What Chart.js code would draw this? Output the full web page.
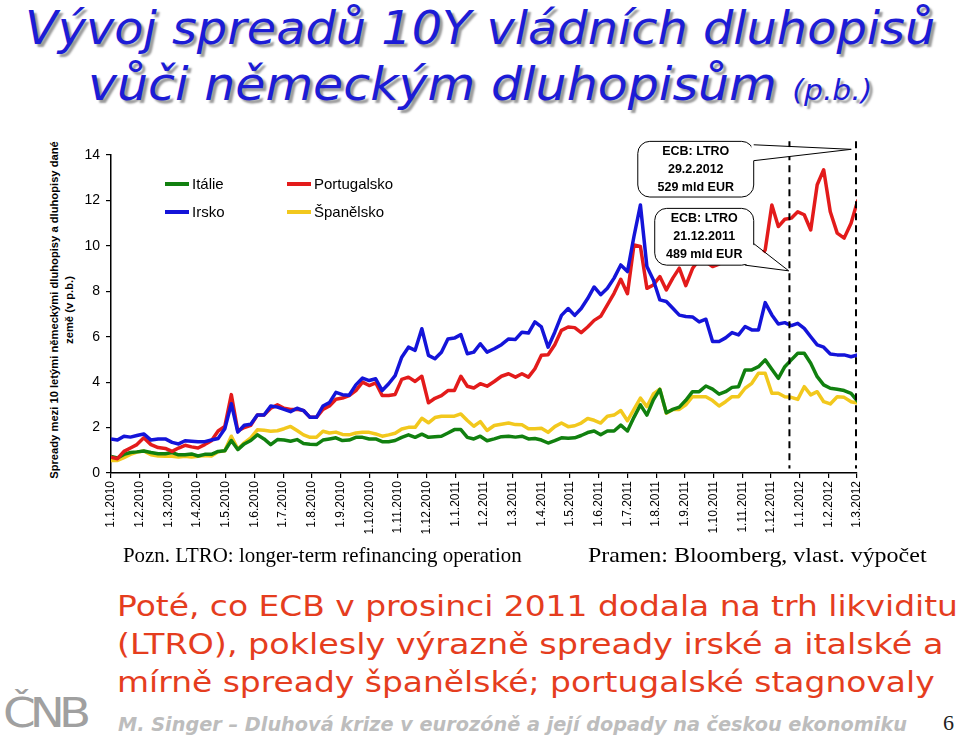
<!DOCTYPE html>
<html>
<head>
<meta charset="utf-8">
<script src="https://cdn.jsdelivr.net/npm/chart.js@4.4.1/dist/chart.umd.min.js"></script>
<style>
  body { margin: 0; width: 960px; height: 737px; position: relative; background: #fff; overflow: hidden;
         font-family: 'Liberation Sans', Arial, sans-serif; }
  .t { position: absolute; white-space: nowrap; transform-origin: 0 0; }
  #chart { position: absolute; left: 0; top: 0; }
  .leg { position: absolute; font: 15px 'Liberation Sans', Arial, sans-serif; color: #000; white-space: nowrap; }
  .leg i { display: inline-block; width: 24px; height: 4px; vertical-align: middle; margin-right: 3px; position: relative; top: -1px; }
</style>
</head>
<body>

<div class="t fit" data-w="910" style="left:25px;top:5px;font:italic 46px/46px 'DejaVu Sans';color:#1c1cd6;text-shadow:3px 3px 2px #9a9a9a">Vývoj spreadů 10Y vládních dluhopisů</div>
<div class="t fit" data-w="784" style="left:88px;top:61px;font:italic 46px/46px 'DejaVu Sans';color:#1c1cd6;text-shadow:3px 3px 2px #9a9a9a">vůči německým dluhopisům <span style="font-size:28px">(p.b.)</span></div>

<div style="position:absolute;left:62px;top:310px;width:380px;transform:translate(-50%,-50%) rotate(-90deg);text-align:center;font:bold 11.2px/15px 'Liberation Sans',Arial,sans-serif;white-space:nowrap">Spready mezi 10 letými německými dluhopisy a dluhopisy dané<br>země (v p.b.)</div>

<canvas id="chart" width="960" height="560"></canvas>
<div id="legend"></div>

<div class="t fit" data-w="399" style="left:123px;top:545px;font:21px/21px 'Liberation Serif';color:#000">Pozn. LTRO: longer-term refinancing operation</div>
<div class="t fit" data-w="338" style="left:588px;top:545px;font:21px/21px 'Liberation Serif';color:#000">Pramen: Bloomberg, vlast. výpočet</div>

<div class="t fit" data-w="841" style="left:117px;top:593px;font:28px/28px 'DejaVu Sans';color:#e53d1e">Poté, co ECB v prosinci 2011 dodala na trh likviditu</div>
<div class="t fit" data-w="826" style="left:117px;top:631px;font:28px/28px 'DejaVu Sans';color:#e53d1e">(LTRO), poklesly výrazně spready irské a italské a</div>
<div class="t fit" data-w="818" style="left:117px;top:669px;font:28px/28px 'DejaVu Sans';color:#e53d1e">mírně spready španělské; portugalské stagnovaly</div>

<div class="t fit" data-w="82" style="left:3px;top:693px;font:40px/40px 'DejaVu Sans';letter-spacing:-5px;color:#a0a0a0">ČNB</div>
<div class="t fit" data-w="789" style="left:118px;top:714px;font:italic bold 20px/20px 'DejaVu Sans';color:#bdbdbd">M. Singer – Dluhová krize v eurozóně a její dopady na českou ekonomiku</div>
<div class="t" style="left:943px;top:712px;font:22px/22px 'Liberation Serif';color:#222">6</div>

<script>
// month ticks on the x axis
const monthLabels = [
  '1.1.2010', '1.2.2010', '1.3.2010', '1.4.2010', '1.5.2010', '1.6.2010', '1.7.2010', '1.8.2010',
  '1.9.2010', '1.10.2010', '1.11.2010', '1.12.2010',
  '1.1.2011', '1.2.2011', '1.3.2011', '1.4.2011', '1.5.2011', '1.6.2011', '1.7.2011', '1.8.2011',
  '1.9.2011', '1.10.2011', '1.11.2011', '1.12.2011',
  '1.1.2012', '1.2.2012', '1.3.2012'
];

// weekly spreads vs. Bund (p.b.), from 1.1.2010
const irsko = [
  1.5, 1.45, 1.62, 1.58, 1.65, 1.72, 1.45, 1.5, 1.5, 1.35,
  1.28, 1.42, 1.4, 1.38, 1.38, 1.45, 1.52, 1.95, 3.05, 1.8,
  2.1, 2.15, 2.55, 2.55, 2.95, 2.9, 2.8, 2.7, 2.85, 2.75,
  2.45, 2.45, 2.95, 3.1, 3.55, 3.45, 3.42, 3.88, 4.18, 4.07,
  4.15, 3.63, 3.93, 4.29, 5.1, 5.54, 5.4, 6.35, 5.18, 5.03,
  5.32, 5.9, 5.94, 6.09, 5.25, 5.32, 5.69, 5.32, 5.47, 5.65,
  5.9, 5.88, 6.2, 6.16, 6.65, 6.43, 5.54, 6.2, 6.94, 7.24,
  6.94, 7.24, 7.68, 8.19, 7.85, 8.13, 8.58, 9.16, 8.87, 10.41,
  11.8, 9.09, 8.5, 7.62, 7.55, 7.25, 6.95, 6.89, 6.87, 6.65,
  6.77, 5.79, 5.79, 5.95, 6.18, 6.08, 6.45, 6.3, 6.3, 7.5,
  6.96, 6.56, 6.62, 6.49, 6.59, 6.37, 6.0, 5.64, 5.54, 5.24,
  5.2, 5.2, 5.12, 5.2
];
const portugalsko = [
  0.7, 0.63, 0.95, 1.1, 1.25, 1.55, 1.25, 1.12, 1.08, 0.95,
  1.1, 1.22, 1.15, 1.1, 1.25, 1.42, 1.85, 2.05, 3.45, 1.85,
  2.0, 2.1, 2.55, 2.55, 2.85, 3.0, 2.85, 2.8, 2.8, 2.75,
  2.45, 2.45, 2.8, 2.95, 3.25, 3.3, 3.41, 3.63, 4.0, 3.85,
  3.97, 3.41, 3.41, 3.46, 4.12, 4.22, 4.03, 4.26, 3.09, 3.29,
  3.41, 3.63, 3.63, 4.26, 3.82, 3.74, 3.93, 3.82, 4.03, 4.26,
  4.37, 4.22, 4.37, 4.22, 4.59, 5.18, 5.21, 5.65, 6.28, 6.43,
  6.4, 6.18, 6.43, 6.72, 6.9, 7.4, 7.91, 8.53, 7.89, 10.04,
  9.97, 8.13, 8.28, 8.65, 8.06, 8.58, 9.02, 8.25, 9.0, 9.4,
  9.3, 9.09, 9.2, 9.4, 9.3, 9.5, 9.6, 9.5, 9.31, 9.82,
  11.8, 10.85, 11.17, 11.22, 11.5, 11.37, 10.7, 12.69, 13.35, 11.5,
  10.56, 10.34, 11.0, 12.03
];
const italie = [
  0.73, 0.66, 0.82, 0.9, 0.93, 0.97, 0.9, 0.85, 0.85, 0.9,
  0.8, 0.8, 0.84, 0.75, 0.82, 0.82, 0.95, 0.98, 1.43, 1.03,
  1.28, 1.43, 1.68, 1.5, 1.25, 1.47, 1.45, 1.4, 1.47, 1.3,
  1.27, 1.25, 1.45, 1.5, 1.55, 1.43, 1.45, 1.57, 1.57, 1.5,
  1.5, 1.38, 1.38, 1.43, 1.57, 1.68, 1.57, 1.71, 1.57, 1.6,
  1.62, 1.76, 1.91, 1.91, 1.57, 1.5, 1.62, 1.42, 1.5, 1.6,
  1.62, 1.58, 1.62, 1.5, 1.52, 1.45, 1.32, 1.43, 1.55, 1.53,
  1.55, 1.65, 1.78, 1.85, 1.68, 1.85, 1.85, 2.11, 1.85, 2.45,
  3.0, 2.55, 3.22, 3.68, 2.65, 2.8, 2.9, 3.2, 3.58, 3.58,
  3.83, 3.69, 3.47, 3.58, 3.77, 3.8, 4.54, 4.54, 4.68, 4.98,
  4.57, 4.17, 4.68, 4.98, 5.27, 5.27, 4.83, 4.24, 3.88, 3.73,
  3.69, 3.63, 3.51, 3.14
];
const spanelsko = [
  0.55, 0.55, 0.68, 0.82, 0.92, 0.97, 0.8, 0.75, 0.74, 0.74,
  0.7, 0.74, 0.7, 0.74, 0.77, 0.75, 0.93, 0.98, 1.62, 1.05,
  1.33, 1.55, 1.9, 1.88, 1.84, 1.86, 1.95, 2.05, 1.87, 1.68,
  1.57, 1.57, 1.84, 1.76, 1.8, 1.7, 1.68, 1.76, 1.79, 1.79,
  1.72, 1.62, 1.68, 1.75, 1.94, 2.01, 2.01, 2.41, 2.21, 2.44,
  2.5, 2.5, 2.5, 2.6, 2.31, 2.06, 2.26, 1.87, 2.09, 2.15,
  2.2, 2.13, 2.12, 1.95, 1.95, 1.97, 1.79, 2.04, 2.2, 2.04,
  2.08, 2.2, 2.4, 2.32, 2.2, 2.5, 2.55, 2.75, 2.3, 2.8,
  3.3, 2.92, 3.48, 3.69, 2.63, 2.8, 2.8, 3.0, 3.36, 3.36,
  3.36, 3.19, 2.95, 3.14, 3.36, 3.36, 3.73, 3.95, 4.39, 4.39,
  3.51, 3.51, 3.36, 3.33, 3.24, 3.8, 3.44, 3.58, 3.14, 3.04,
  3.36, 3.33, 3.14, 3.07
];

const ltroDates = ['2011-12-21', '2012-02-29'];

// position of a date on the month axis (0 = 1.1.2010)
function monthPos(d) {
  const dim = new Date(Date.UTC(d.getUTCFullYear(), d.getUTCMonth() + 1, 0)).getUTCDate();
  return (d.getUTCFullYear() - 2010) * 12 + d.getUTCMonth() + (d.getUTCDate() - 1) / dim;
}
function weekPos(i) {
  return monthPos(new Date(Date.UTC(2010, 0, 1 + 7 * i)));
}
const toPoints = arr => arr.map((v, i) => ({ x: weekPos(i), y: v }));

const series = [
  { label: 'Irsko', data: irsko, color: '#1414d9' },
  { label: 'Portugalsko', data: portugalsko, color: '#e31b1b' },
  { label: 'Itálie', data: italie, color: '#11800f' },
  { label: 'Španělsko', data: spanelsko, color: '#f2c81d' }
];

// legend (two columns, like the original)
const legendSlots = { 'Itálie': [165, 175], 'Portugalsko': [287, 175], 'Irsko': [165, 203], 'Španělsko': [287, 203] };
const legend = document.getElementById('legend');
series.forEach(s => {
  const el = document.createElement('div');
  el.className = 'leg';
  el.style.left = legendSlots[s.label][0] + 'px';
  el.style.top = legendSlots[s.label][1] + 'px';
  el.innerHTML = `<i style="background:${s.color}"></i>${s.label}`;
  legend.appendChild(el);
});

// callout boxes, in axis units (x = months, y = p.b.)
const callouts = [
  { lines: ['ECB: LTRO', '29.2.2012', '529 mld EUR'], x0: 18.36, x1: 22.4, y0: 14.6, y1: 12.15,
    base: [[22.4, 14.45], [22.4, 13.75]], tip: [25.8, 14.25] },
  { lines: ['ECB: LTRO', '21.12.2011', '489 mld EUR'], x0: 18.95, x1: 22.4, y0: 11.65, y1: 9.15,
    base: [[22.4, 10.1], [22.1, 9.15]], tip: [23.62, 8.9] }
];

const annotations = {
  id: 'annotations',
  afterDatasetsDraw(chart) {
    const { ctx, scales: { x, y } } = chart;
    ctx.save();
    // LTRO dates
    ctx.strokeStyle = '#000';
    ctx.lineWidth = 2;
    ctx.setLineDash([7, 5]);
    ltroDates.forEach(ds => {
      const px = x.getPixelForValue(monthPos(new Date(ds + 'T00:00:00Z')));
      ctx.beginPath();
      ctx.moveTo(px, y.getPixelForValue(14.6));
      ctx.lineTo(px, y.getPixelForValue(0.2));
      ctx.stroke();
    });
    ctx.setLineDash([]);

    callouts.forEach(c => {
      const l = x.getPixelForValue(c.x0), r = x.getPixelForValue(c.x1);
      const t = y.getPixelForValue(c.y0), b = y.getPixelForValue(c.y1);
      const cx = (l + r) / 2, cy = (t + b) / 2;
      ctx.lineWidth = 1;
      ctx.strokeStyle = '#000';
      ctx.fillStyle = '#fff';
      ctx.beginPath();
      ctx.roundRect(l, t, r - l, b - t, 12);
      ctx.fill();
      ctx.stroke();
      const tip = [x.getPixelForValue(c.tip[0]), y.getPixelForValue(c.tip[1])];
      const bp = c.base.map(p => [x.getPixelForValue(p[0]), y.getPixelForValue(p[1])]);
      const inner = bp.map(p => {
        const dx = cx - p[0], dy = cy - p[1], n = Math.hypot(dx, dy);
        return [p[0] + dx / n * 2.5, p[1] + dy / n * 2.5];
      });
      ctx.beginPath();
      ctx.moveTo(inner[0][0], inner[0][1]);
      ctx.lineTo(tip[0], tip[1]);
      ctx.lineTo(inner[1][0], inner[1][1]);
      ctx.closePath();
      ctx.fill();
      ctx.beginPath();
      ctx.moveTo(bp[0][0], bp[0][1]);
      ctx.lineTo(tip[0], tip[1]);
      ctx.lineTo(bp[1][0], bp[1][1]);
      ctx.stroke();

      ctx.fillStyle = '#000';
      ctx.font = "bold 12.5px 'Liberation Sans', Arial, sans-serif";
      ctx.textAlign = 'center';
      ctx.textBaseline = 'middle';
      c.lines.forEach((txt, k) => ctx.fillText(txt, cx, cy + (k - 1) * 18));
    });
    ctx.restore();
  }
};

new Chart(document.getElementById('chart'), {
  type: 'line',
  data: {
    datasets: series.map(s => ({
      label: s.label,
      data: toPoints(s.data),
      borderColor: s.color,
      backgroundColor: s.color,
      borderWidth: 3.5,
      pointRadius: 0,
      tension: 0,
      borderJoinStyle: 'round',
      fill: false
    }))
  },
  options: {
    responsive: false,
    animation: false,
    devicePixelRatio: 1,
    layout: { padding: { left: 40, top: 155, right: 103, bottom: 0 } },
    plugins: { legend: { display: false }, tooltip: { enabled: false } },
    scales: {
      x: {
        type: 'linear',
        min: 0,
        max: monthLabels.length - 1,
        afterFit: s => { s.height = 87; },
        ticks: {
          stepSize: 1,
          autoSkip: false,
          minRotation: 90,
          maxRotation: 90,
          padding: 3,
          color: '#000',
          font: { family: "'Liberation Sans', Arial, sans-serif", size: 12 },
          callback: v => monthLabels[v]
        },
        grid: { drawOnChartArea: false, tickLength: 5, color: '#000', lineWidth: 1.2 },
        border: { display: true, color: '#000', width: 1.5 }
      },
      y: {
        min: 0,
        max: 14,
        afterFit: s => { s.width = 71; },
        ticks: {
          stepSize: 2,
          padding: 6,
          color: '#000',
          font: { family: "'Liberation Sans', Arial, sans-serif", size: 14 }
        },
        grid: { drawOnChartArea: false, tickLength: 5, color: '#000', lineWidth: 1.2 },
        border: { display: true, color: '#000', width: 1.5 }
      }
    }
  },
  plugins: [annotations]
});

// stretch texts to the widths they have on the slide
document.querySelectorAll('.fit').forEach(el => {
  const w = el.offsetWidth;
  el.style.transform = `scaleX(${el.dataset.w / w})`;
});
</script>
</body>
</html>
